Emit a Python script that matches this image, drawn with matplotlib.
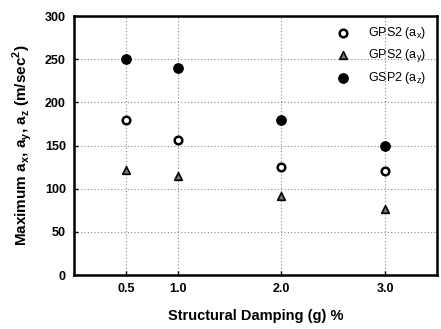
import matplotlib
matplotlib.use("Agg")
import matplotlib.pyplot as plt

plt.rcParams['font.family'] = ['Liberation Sans', 'DejaVu Sans']

damping = [0.5, 1.0, 2.0, 3.0]
ax_vals = [180, 157, 125, 120]
ay_vals = [122, 115, 92, 77]
az_vals = [250, 240, 180, 150]
xtick_labels = ['0.5', '1.0', '2.0', '3.0']
yticks = [0, 50, 100, 150, 200, 250, 300]

fig = plt.figure(figsize=(4.41, 3.29), dpi=100)
ax = fig.add_axes([0.168, 0.164, 0.823, 0.787])

ax.scatter(damping, ax_vals, s=30, marker='o', facecolor='white', edgecolor='black',
           linewidth=1.8, label='GPS2 (a$_\\mathregular{x}$)', zorder=3)
ax.scatter(damping, ay_vals, s=30, marker='^', facecolor='#777777', edgecolor='black',
           linewidth=1.2, label='GPS2 (a$_\\mathregular{y}$)', zorder=3)
ax.scatter(damping, az_vals, s=45, marker='o', facecolor='black', edgecolor='black',
           label='GSP2 (a$_\\mathregular{z}$)', zorder=3)

ax.set_xlim(0, 3.5)
ax.set_ylim(0, 300)
ax.set_xticks(damping)
ax.set_xticklabels(xtick_labels)
ax.set_yticks(yticks)
ax.grid(True, linestyle=(0, (1, 2)), color='#888888', linewidth=0.8)
ax.set_axisbelow(True)
for sp in ax.spines.values():
    sp.set_linewidth(1.8)
ax.tick_params(axis='both', direction='in', length=3, width=1, labelsize=9, pad=6)
for lbl in ax.get_xticklabels() + ax.get_yticklabels():
    lbl.set_fontweight('bold')

ax.set_xlabel('Structural Damping (g) %', fontsize=10.5, fontweight='bold', labelpad=10)
ax.set_ylabel('Maximum a$_\\mathregular{x}$, a$_\\mathregular{y}$, a$_\\mathregular{z}$ (m/sec$^\\mathregular{2}$)',
              fontsize=11, fontweight='bold', labelpad=8)

leg = ax.legend(loc='upper right', frameon=False, fontsize=9, handletextpad=1.0,
                borderaxespad=0.3, labelspacing=0.5, bbox_to_anchor=(0.995, 1.0))

fig.savefig('out.png', dpi=100)
